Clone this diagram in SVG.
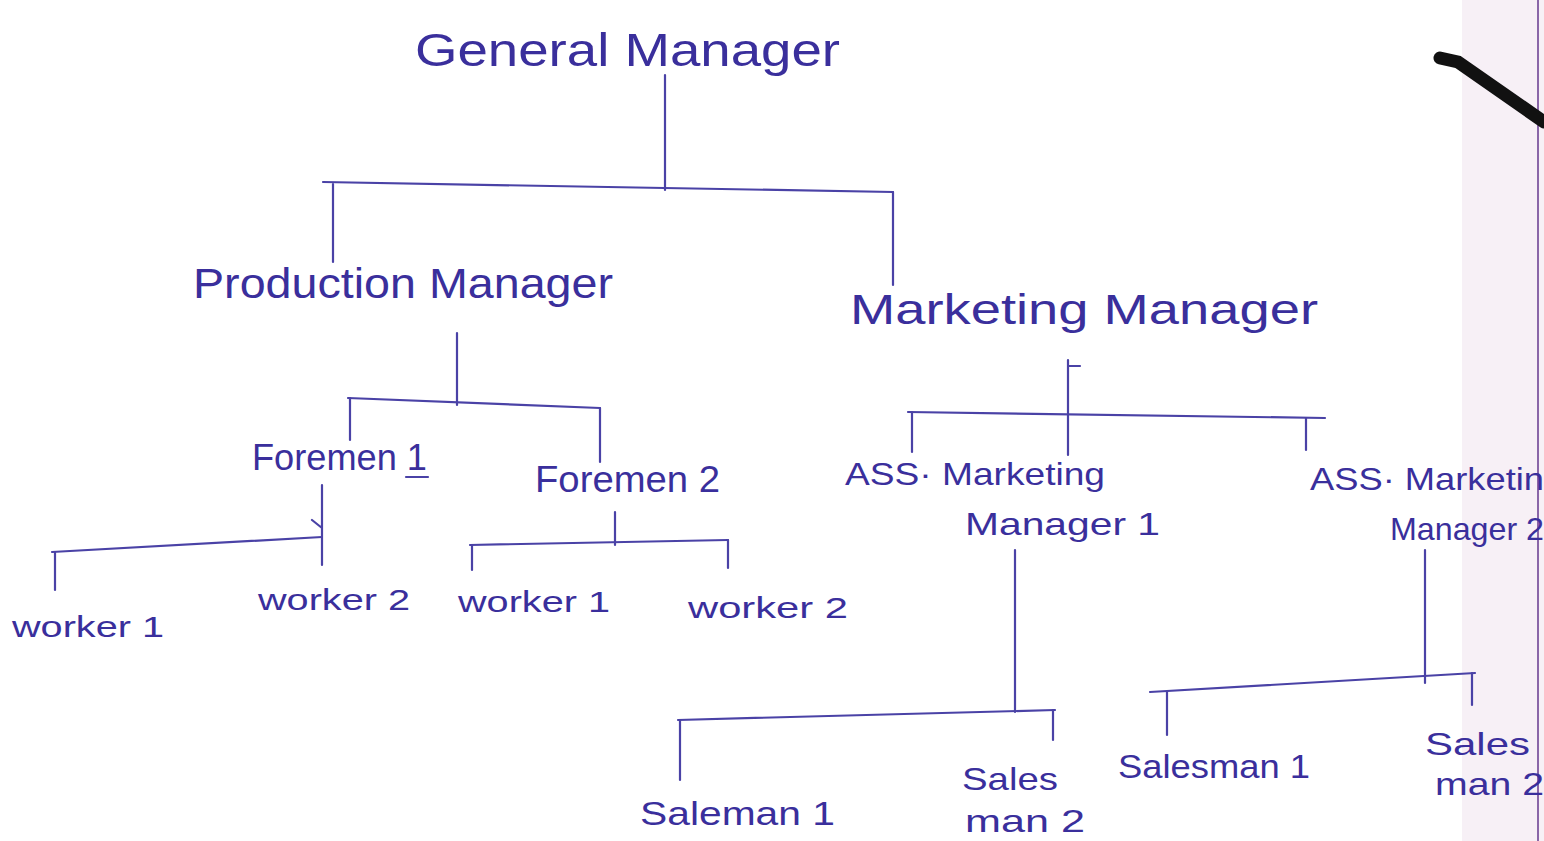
<svg xmlns="http://www.w3.org/2000/svg" width="1544" height="841" viewBox="0 0 1544 841">
<style>
.t{font-family:"Liberation Sans","DejaVu Sans",sans-serif;fill:#3a2f9c}
.c{fill:none;stroke:#4a42a6;stroke-width:2.2;stroke-linecap:round;stroke-linejoin:round}
</style>
<rect width="1544" height="841" fill="#ffffff"/>
<rect x="1462" y="0" width="82" height="841" fill="#f7f0f6"/>
<line x1="1538" y1="0" x2="1538" y2="841" stroke="#8a66a8" stroke-width="2"/>
<path d="M1440 58 L1458 62 L1544 122" fill="none" stroke="#111" stroke-width="13" stroke-linecap="round"/>
<g id="connectors">
<path class="c" d="M665 75 V190"/>
<path class="c" d="M323 182 L893 192"/>
<path class="c" d="M333 184 V262"/>
<path class="c" d="M893 192 V285"/>
<path class="c" d="M457 333 V405"/>
<path class="c" d="M348 398 L600 408"/>
<path class="c" d="M350 398 V440"/>
<path class="c" d="M600 408 V462"/>
<path class="c" d="M322 485 V565 M312 520 L322 528"/>
<path class="c" d="M52 552 L322 537"/>
<path class="c" d="M55 552 V590"/>
<path class="c" d="M615 512 V545"/>
<path class="c" d="M470 545 L728 540"/>
<path class="c" d="M472 545 V570"/>
<path class="c" d="M728 540 V568"/>
<path class="c" d="M1068 360 V455 M1068 366 H1080"/>
<path class="c" d="M908 412 L1325 418"/>
<path class="c" d="M912 412 V452"/>
<path class="c" d="M1306 418 V450"/>
<path class="c" d="M1015 550 V712"/>
<path class="c" d="M678 720 L1055 710"/>
<path class="c" d="M680 720 V780"/>
<path class="c" d="M1053 710 V740"/>
<path class="c" d="M1425 550 V683"/>
<path class="c" d="M1150 692 L1475 673"/>
<path class="c" d="M1167 692 V735"/>
<path class="c" d="M1472 673 V705"/>
</g>
<g id="general-manager"><text class="t" x="415" y="66" font-size="46" textLength="425" lengthAdjust="spacingAndGlyphs">General Manager</text></g>
<g id="production-manager"><text class="t" x="193" y="298" font-size="42" textLength="420" lengthAdjust="spacingAndGlyphs">Production Manager</text></g>
<g id="marketing-manager"><text class="t" x="850" y="324" font-size="42" textLength="468" lengthAdjust="spacingAndGlyphs">Marketing  Manager</text></g>
<g id="foremen-1"><text class="t" x="252" y="470" font-size="36" textLength="175" lengthAdjust="spacingAndGlyphs">Foremen 1</text><path class="c" d="M406 477 H428"/></g>
<g id="foremen-2"><text class="t" x="535" y="492" font-size="36" textLength="185" lengthAdjust="spacingAndGlyphs">Foremen 2</text></g>
<g id="worker-1a"><text class="t" x="12" y="637" font-size="30" textLength="152" lengthAdjust="spacingAndGlyphs">worker 1</text></g>
<g id="worker-2a"><text class="t" x="258" y="610" font-size="30" textLength="152" lengthAdjust="spacingAndGlyphs">worker 2</text></g>
<g id="worker-1b"><text class="t" x="458" y="612" font-size="30" textLength="152" lengthAdjust="spacingAndGlyphs">worker 1</text></g>
<g id="worker-2b"><text class="t" x="688" y="618" font-size="30" textLength="160" lengthAdjust="spacingAndGlyphs">worker 2</text></g>
<g id="ass-marketing-manager-1"><text class="t" x="845" y="485" font-size="32" textLength="260" lengthAdjust="spacingAndGlyphs">ASS· Marketing</text><text class="t" x="965" y="535" font-size="32" textLength="195" lengthAdjust="spacingAndGlyphs">Manager 1</text></g>
<g id="ass-marketing-manager-2"><text class="t" x="1310" y="490" font-size="32" textLength="234" lengthAdjust="spacingAndGlyphs">ASS· Marketin</text><text class="t" x="1390" y="540" font-size="32" textLength="154" lengthAdjust="spacingAndGlyphs">Manager 2</text></g>
<g id="saleman-1"><text class="t" x="640" y="825" font-size="34" textLength="195" lengthAdjust="spacingAndGlyphs">Saleman 1</text></g>
<g id="sales-man-2a"><text class="t" x="962" y="790" font-size="32" textLength="96" lengthAdjust="spacingAndGlyphs">Sales</text><text class="t" x="965" y="832" font-size="32" textLength="120" lengthAdjust="spacingAndGlyphs">man 2</text></g>
<g id="salesman-1"><text class="t" x="1118" y="778" font-size="34" textLength="192" lengthAdjust="spacingAndGlyphs">Salesman 1</text></g>
<g id="sales-man-2b"><text class="t" x="1425" y="755" font-size="32" textLength="105" lengthAdjust="spacingAndGlyphs">Sales</text><text class="t" x="1435" y="795" font-size="32" textLength="109" lengthAdjust="spacingAndGlyphs">man 2</text></g>
</svg>
